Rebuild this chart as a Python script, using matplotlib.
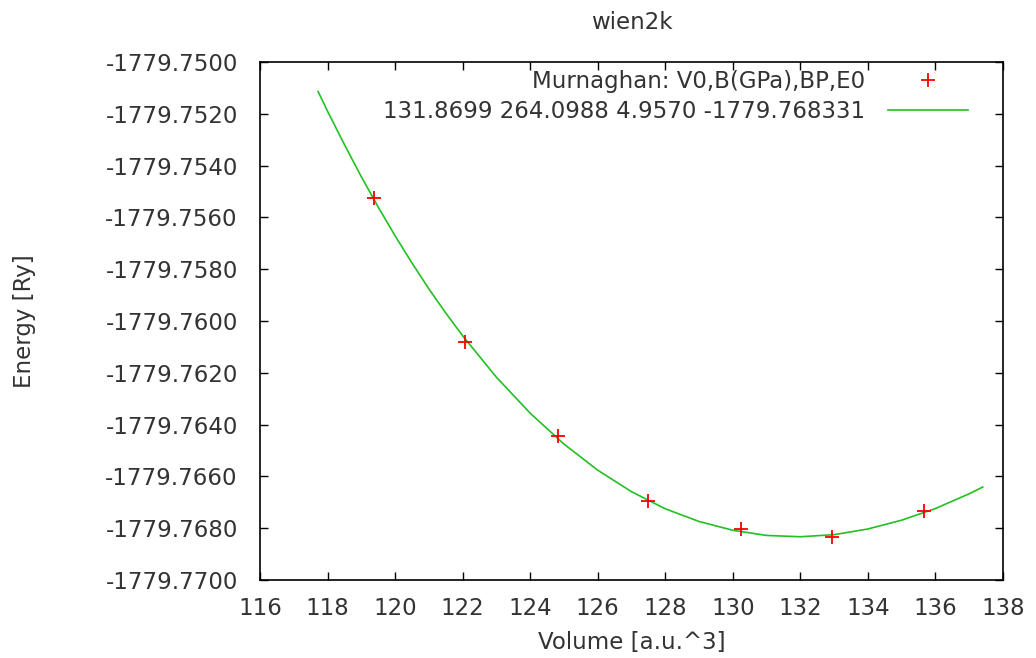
import matplotlib.pyplot as plt

# measured points (volume in a.u.^3, energy in Ry)
volume = [119.38, 122.07, 124.82, 127.49, 130.24, 132.94, 135.66]
energy = [-1779.75525, -1779.76080, -1779.76445, -1779.76695, -1779.76805, -1779.76835, -1779.76735]

# fitted curve
fit_volume = [117.72, 118, 118.5, 119, 119.5, 120, 120.5, 121, 121.5, 122, 123, 124, 125,
              126, 127, 128, 129, 130, 131, 132, 133, 134, 135, 136, 137, 137.4]
fit_energy = [-1779.75114, -1779.75190, -1779.75319, -1779.75443, -1779.75560, -1779.75671,
              -1779.75776, -1779.75876, -1779.75969, -1779.76057, -1779.76217, -1779.76356,
              -1779.76475, -1779.76576, -1779.76659, -1779.76725, -1779.76774, -1779.76808,
              -1779.76828, -1779.76833, -1779.76825, -1779.76803, -1779.76769, -1779.76724,
              -1779.76667, -1779.76641]

xticks = list(range(116, 139, 2))
yticks = [-1779.7700 + 0.002 * i for i in range(11)]

legend_points = 'Murnaghan: V0,B(GPa),BP,E0'
legend_fit = '131.8699 264.0988 4.9570 -1779.768331'

plt.rcParams['font.family'] = ['DejaVu Sans']
fig = plt.figure(figsize=(10.36, 6.58), dpi=100)
ax = fig.add_axes([260/1036, 1 - 580/658, (1003-260)/1036, (580-62)/658])

ax.plot(volume, energy, linestyle='none', marker='+', color='#ff0000',
        markersize=10, markeredgewidth=1.3, label=legend_points, zorder=3)
ax.plot(fit_volume, fit_energy, color='#22c022', linewidth=1.2, label=legend_fit)

ax.set_xlim(116, 138)
ax.set_ylim(-1779.7700, -1779.7500)
ax.set_xticks(xticks)
ax.set_xticklabels([str(t) for t in xticks])
ax.set_yticks(yticks)
ax.set_yticklabels(['%.4f' % t for t in yticks])

ax.tick_params(direction='in', length=6, width=1, top=True, right=True,
               labelsize=16.5, colors='#000000', labelcolor='#333333')
ax.tick_params(axis='x', pad=12)
ax.tick_params(axis='y', pad=16)
for s in ax.spines.values():
    s.set_linewidth(1.2)

ax.set_title('wien2k', fontsize=16.5, color='#333333', pad=24)
ax.set_xlabel('Volume [a.u.^3]', fontsize=16.5, color='#333333', labelpad=8)
ax.set_ylabel('Energy [Ry]', fontsize=16.5, color='#333333', labelpad=50)

ax.legend(loc='upper right', bbox_to_anchor=(968/1036, 1 - 70/658),
          bbox_transform=fig.transFigure, frameon=False, markerfirst=False,
          fontsize=16.5, handlelength=3.5, handletextpad=1.0, labelspacing=0.3,
          borderpad=0, borderaxespad=0, labelcolor='#333333')

plt.savefig('out.png', dpi=100)
